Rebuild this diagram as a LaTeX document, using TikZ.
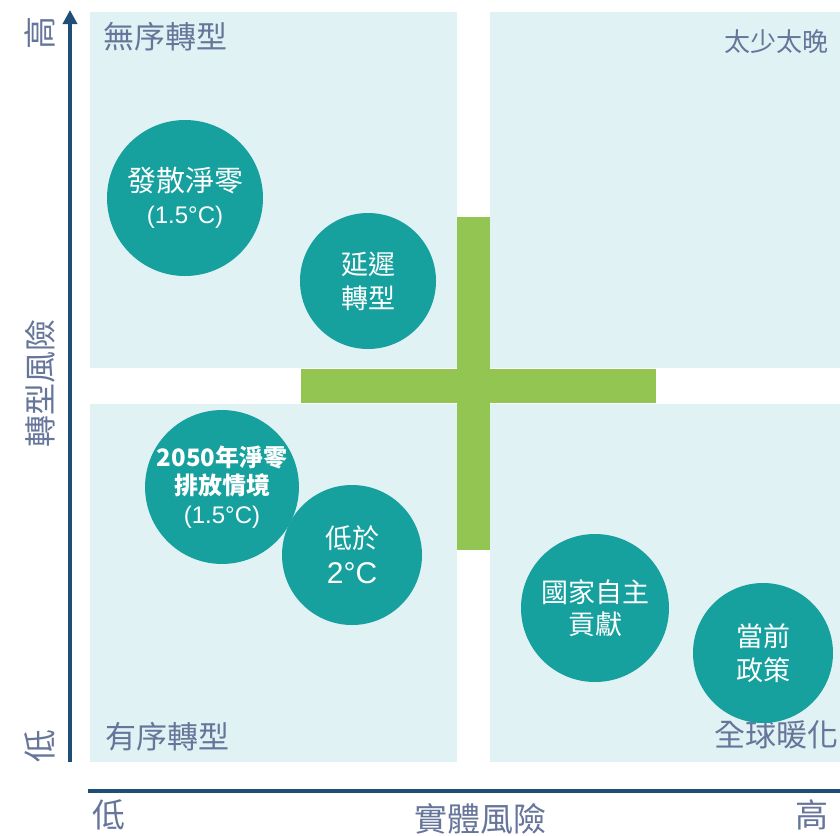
\documentclass[tikz,border=0pt]{standalone}
\usepackage{fontspec}
\newfontfamily\cjk{Noto Sans CJK TC}
\newfontfamily\lat{Liberation Sans}
\usetikzlibrary{arrows.meta}
\definecolor{quad}{HTML}{E0F2F3}
\definecolor{teal}{HTML}{16A09E}
\definecolor{crossg}{HTML}{92C551}
\definecolor{axisblue}{HTML}{1F4E79}
\definecolor{lbl}{HTML}{66759A}
\begin{document}
\begin{tikzpicture}[x=1pt,y=-1pt,
  quadbox/.style={fill=quad,draw=none},
  crossbar/.style={fill=crossg,draw=none},
  bubble/.style={circle,fill=teal,draw=none,text=white,align=center,inner sep=0pt,font=\cjk\fontsize{27}{32}\selectfont},
  qlabel/.style={text=lbl,font=\cjk\fontsize{31}{36}\selectfont,inner sep=0pt},
  axlabel/.style={text=lbl,font=\cjk\fontsize{33}{38}\selectfont,inner sep=0pt},
  axisline/.style={draw=axisblue,line width=4pt}]
\useasboundingbox (0,0) rectangle (840,835);
\clip (0,0) rectangle (840,835);
\fill[white] (0,0) rectangle (840,835);
% quadrants
\fill[quadbox] (90,12) rectangle (457,368);
\fill[quadbox] (490,12) rectangle (850,368);
\fill[quadbox] (90,404) rectangle (457,762);
\fill[quadbox] (490,404) rectangle (850,762);
% cross
\fill[crossbar] (457,217) rectangle (490,550);
\fill[crossbar] (301,369) rectangle (656,403);
% axes
\coordinate (ybot) at (70,762);
\coordinate (ytop) at (70,10);
\draw[axisline,-{Triangle[length=14pt,width=14pt]}] (ybot) -- (ytop);
\coordinate (xl) at (88,791);
\coordinate (xr) at (850,791);
\draw[axisline] (xl) -- (xr);
% axis labels
\node[axlabel,rotate=90] (yhi) at (40,33) {高};
\node[axlabel,rotate=90,font=\cjk\fontsize{32}{36}\selectfont] (ymid) at (40,383) {轉型風險};
\node[axlabel,rotate=90] (ylo) at (40,746) {低};
\node[axlabel] (xlo) at (109,815) {低};
\node[axlabel] (xmid) at (480,819) {實體風險};
\node[axlabel] (xhi) at (812,815) {高};
% quadrant labels
\node[qlabel,anchor=west] (q1) at (103,37) {無序轉型};
\node[qlabel,anchor=west,font=\cjk\fontsize{26}{30}\selectfont] (q2) at (724,42) {太少太晚};
\node[qlabel,anchor=west] (q3) at (105,737) {有序轉型};
\node[qlabel,anchor=east] (q4) at (839,735) {全球暖化};
% bubbles
\node[bubble,minimum size=156pt,font=\cjk\fontsize{29}{32}\selectfont] (b1) at (185,198) {發散淨零\\{\lat\fontsize{24}{28}\selectfont(1.5°C)}};
\node[bubble,minimum size=136pt] (b2) at (368,281) {延遲\\[2pt]轉型};
\node[bubble,minimum size=150pt,font=\cjk\bfseries\fontsize{24}{28.5}\selectfont] (b3) at (222,487) {2050年淨零\\排放情境\\{\lat\mdseries\fontsize{24}{28.5}\selectfont(1.5°C)}};
\node[bubble,minimum size=140pt] (b4) at (352,555) {低於\\[3pt]{\lat\fontsize{30}{34}\selectfont 2°C}};
\node[bubble,minimum size=148pt] (b5) at (595,608) {國家自主\\貢獻};
\node[bubble,minimum size=140pt] (b6) at (763,653) {當前\\[2pt]政策};
\end{tikzpicture}
\end{document}
